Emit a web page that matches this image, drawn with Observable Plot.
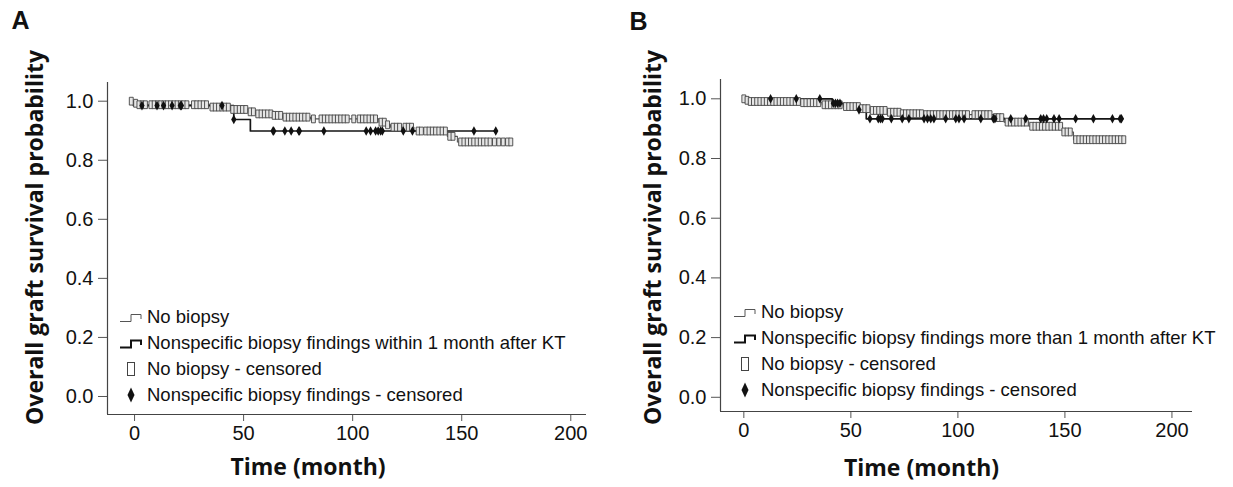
<!DOCTYPE html>
<html><head><meta charset="utf-8">
<script src="https://cdn.jsdelivr.net/npm/d3@7"></script>
<script src="https://cdn.jsdelivr.net/npm/@observablehq/plot@0.6"></script>
<style>
body{margin:0;background:#fff;}
#wrap{position:relative;width:1233px;height:487px;overflow:hidden;font-family:"Liberation Sans",Arial,sans-serif;background:#fff;}
.panel{position:absolute;top:0;}
.legend{position:absolute;font-size:18.5px;color:#111;font-family:"Liberation Sans",Arial,sans-serif;}
.legend .row{display:flex;align-items:center;height:26px;white-space:nowrap;}
.legend svg{flex:none;margin-right:2px;}
</style>
</head><body><div id="wrap"></div><script>
// ---------- data ----------
const xTicks = [0, 50, 100, 150, 200];
const yTicks = [0.0, 0.2, 0.4, 0.6, 0.8, 1.0];
const yLabel = "Overall graft survival probability";
const xLabel = "Time (month)";
const panelLetters = ["A", "B"];

// Panel A
const aNoBiopsyTime = [-1, 0, 1, 34.8, 43.9, 52.3, 55.4, 63.1, 67.7, 80.7, 112, 115.1, 117.4, 128.1, 143.4, 148, 172.5];
const aNoBiopsySurv = [1.0, 0.993, 0.988, 0.98, 0.972, 0.964, 0.957, 0.952, 0.946, 0.94, 0.929, 0.92, 0.912, 0.899, 0.881, 0.862, 0.862];
const aNonspecTime = [-1, -0.5, 45.5, 53.1, 165.7];
const aNonspecSurv = [1.0, 0.985, 0.938, 0.899, 0.899];
const aNoBiopsyCensored = [-1.5, 0.5, 2, 3.5, 5, 7.5, 9, 10.5, 12, 13.5, 15, 16.5, 18, 19.5, 21, 22.5, 24, 27, 28.5, 30, 31.5, 33,
  35.5, 37, 38.5, 40, 41.5, 43, 45, 46.5, 48, 49.5, 51, 53, 54.5, 56.5, 58, 59.5, 61, 62.5, 64, 65.5, 67,
  69, 70.5, 72, 73.5, 75, 76.5, 78, 79.5, 82, 85.5, 87, 88.5, 90, 91.5, 93, 94.5, 96, 97.5, 100.5, 103, 104.5, 106, 107.5, 109, 110.5,
  113, 114.5, 116, 118.5, 120, 121.5, 124, 125.5, 127, 130, 131.5, 133.5, 135, 136.5, 138, 139.5, 141, 142.5, 144.5, 146,
  149.5, 151, 152.5, 154, 155.5, 157, 158.5, 160, 161.5, 163, 165, 167, 169, 171, 172.5];
const aNonspecCensored = [3.4, 10.3, 13.3, 17.2, 21.0, 21.5, 40.1, 45.5, 63.5, 63.8, 68.9, 71.8, 75.3, 75.6, 86.8, 106.2, 108.2, 110.5, 111.7, 112.8, 113.6, 123.2, 127.4, 155.6, 165.6];
const aLegend = ["No biopsy", "Nonspecific biopsy findings within 1 month after KT", "No biopsy - censored", "Nonspecific biopsy findings - censored"];

// Panel B
const bNoBiopsyTime = [0, 1, 3, 26.5, 36.6, 46.8, 54.2, 59.2, 67, 73.3, 84.2, 116.9, 121.6, 133.2, 148.8, 154, 178];
const bNoBiopsySurv = [1.0, 0.995, 0.991, 0.987, 0.98, 0.974, 0.967, 0.961, 0.955, 0.95, 0.947, 0.937, 0.922, 0.908, 0.889, 0.863, 0.863];
const bNonspecTime = [0, 41.3, 47, 52, 57.2, 177];
const bNonspecSurv = [1.0, 0.985, 0.975, 0.963, 0.933, 0.933];
const bNoBiopsyCensored = [0, 1.5, 3, 4.5, 6, 7.5, 9, 10.5, 12, 13.5, 15, 16.5, 18, 19.5, 21, 22.5, 24, 25.5,
  27.5, 29, 30.5, 32, 33.5, 35, 37.5, 39, 40.5, 42, 43.5, 45, 47.5, 49, 50.5, 52, 53.5, 55, 56.5, 58,
  60, 61.5, 63, 64.5, 66, 68, 69.5, 71, 72.5, 74, 75.5, 77, 78.5, 80, 81.5, 83,
  85, 86.5, 88, 89.5, 91, 92.5, 94, 95.5, 97, 98.5, 100, 101.5, 103, 104.5, 107.5, 109, 110.5, 112, 113.5, 115,
  117.5, 119, 120.5, 123, 124.5, 126, 127.5, 129, 130.5, 132, 134.5, 136, 137.5, 139, 140.5, 142, 143.5, 145, 146.5, 148,
  149.5, 151, 152.5, 155, 156.5, 158, 159.5, 161, 162.5, 164, 165.5, 167, 168.5, 170, 171.5, 173, 174.5, 176, 177.5];
const bNonspecCensored = [12.5, 24.5, 35.5, 41.8, 42.8, 43.8, 44.9, 53.8, 58.9, 62.8, 63.8, 64.7, 68.9, 74, 77.1, 84.2, 85.8, 87.3, 88.8,
  94.3, 99, 100.5, 102.9, 110.7, 116.6, 117.3, 124.7, 131.7, 138.7, 140, 141.5, 144.9, 147.3, 155, 163.3, 172.2, 175.8, 176.4];
const bLegend = ["No biopsy", "Nonspecific biopsy findings more than 1 month after KT", "No biopsy - censored", "Nonspecific biopsy findings - censored"];

// ---------- helpers ----------
function stepAt(times, surv, t) {
  let v = surv[0];
  for (let i = 0; i < times.length; i++) if (t >= times[i]) v = surv[i];
  return v;
}
const curve = (times, surv) => times.map((t, i) => ({t, s: surv[i]}));
const marks = (cens, times, surv) => cens.map(t => ({t, s: stepAt(times, surv, t)}));

const rectSym = {draw(ctx, size) { const r = Math.sqrt(size / Math.PI); const w = r * 0.5, h = r;
  ctx.moveTo(-w, -h); ctx.lineTo(w, -h); ctx.lineTo(w, h); ctx.lineTo(-w, h); ctx.closePath(); }};
const diamondSym = {draw(ctx, size) { const r = Math.sqrt(size / Math.PI); const w = r * 0.55, h = r;
  ctx.moveTo(0, -h); ctx.lineTo(w, 0); ctx.lineTo(0, h); ctx.lineTo(-w, 0); ctx.closePath(); }};

function panel(cfg) {
  const xd = cfg.xDomain, yd = cfg.yDomain;
  return Plot.plot({
    width: cfg.width, height: 487,
    marginLeft: cfg.ml, marginRight: cfg.mr, marginTop: cfg.mt, marginBottom: cfg.mb,
    x: {domain: xd}, y: {domain: yd},
    style: {fontFamily: "Liberation Sans, Arial, sans-serif", fontSize: "20px", color: "#111", background: "white", overflow: "visible"},
    marks: [
      Plot.axisX({ticks: xTicks, tickSize: 7, tickPadding: 4, label: null, fontSize: 20, stroke: "#555"}),
      Plot.axisY({ticks: yTicks, tickSize: 9, tickPadding: 5, tickFormat: d3.format(".1f"), label: null, fontSize: 20, stroke: "#555"}),
      Plot.ruleX([xd[0]], {y1: yd[0], y2: yd[1], stroke: "#444", strokeWidth: 1.2}),
      Plot.ruleY([yd[0]], {x1: xd[0], x2: xd[1], stroke: "#444", strokeWidth: 1.2}),
      Plot.line(curve(cfg.nbT, cfg.nbS), {x: "t", y: "s", curve: "step-after", stroke: "#555", strokeWidth: 1.1}),
      Plot.line(curve(cfg.nsT, cfg.nsS), {x: "t", y: "s", curve: "step-after", stroke: "#151515", strokeWidth: 1.7}),
      Plot.dot(marks(cfg.nbC, cfg.nbT, cfg.nbS), {x: "t", y: "s", symbol: rectSym, r: 3.9, fill: "#e6e6e6", stroke: "#444", strokeWidth: 0.9}),
      Plot.dot(marks(cfg.nsC, cfg.nsT, cfg.nsS), {x: "t", y: "s", symbol: diamondSym, r: 4.8, fill: "#111", stroke: "none"}),
      Plot.text([yLabel], {text: d => d, frameAnchor: "left", textAnchor: "middle", lineAnchor: "middle", rotate: -90, dx: cfg.ylDx, dy: cfg.ylDy, fontSize: 23, fontWeight: "bold", fontFamily: "Open Sans, sans-serif", fill: "#111"}),
      Plot.text([xLabel], {text: d => d, frameAnchor: "bottom", textAnchor: "middle", lineAnchor: "middle", dx: cfg.xlDx, dy: cfg.xlDy, fontSize: 23, fontWeight: "bold", fontFamily: "Open Sans, sans-serif", fill: "#111"}),
      Plot.text([cfg.letter], {text: d => d, frameAnchor: "top-left", textAnchor: "middle", lineAnchor: "middle", dx: cfg.lDx, dy: cfg.lDy, fontSize: 25, fontWeight: "bold", fontFamily: "Liberation Sans, Arial, sans-serif", fill: "#111"})
    ]
  });
}

function legendSym(kind) {
  if (kind === 0) return `<svg width="26" height="20"><path d="M1,14.5 H12 V7.5 H22 V12" fill="none" stroke="#555" stroke-width="1"/></svg>`;
  if (kind === 1) return `<svg width="26" height="20"><path d="M1,14.5 H12 V7.5 H22 V12" fill="none" stroke="#111" stroke-width="2"/></svg>`;
  if (kind === 2) return `<svg width="26" height="20"><rect x="8.5" y="3.5" width="7" height="13" fill="#fff" stroke="#444" stroke-width="1"/></svg>`;
  return `<svg width="26" height="20"><polygon points="12,2.5 15.5,10 12,17.5 8.5,10" fill="#111"/></svg>`;
}
function legend(items, left, top) {
  const div = document.createElement("div");
  div.className = "legend";
  div.style.left = left + "px"; div.style.top = top + "px";
  div.innerHTML = items.map((s, i) => `<div class="row">${legendSym(i)}<span>${s}</span></div>`).join("");
  return div;
}

const wrap = document.getElementById("wrap");
const A = panel({width: 616, ml: 107, mr: 30, mt: 82, mb: 73, xDomain: [-12.4, 207.2], yDomain: [-0.061, 1.0633],
  nbT: aNoBiopsyTime, nbS: aNoBiopsySurv, nsT: aNonspecTime, nsS: aNonspecSurv, nbC: aNoBiopsyCensored, nsC: aNonspecCensored,
  ylDx: -72, ylDy: -11, xlDx: -39, xlDy: 53, letter: panelLetters[0], lDx: -87, lDy: -62});
A.classList.add("panel"); A.style.left = "0px";
wrap.appendChild(A);
const B = panel({width: 617, ml: 104, mr: 41, mt: 79, mb: 76, xDomain: [-10.9, 209.6], yDomain: [-0.0476, 1.0647],
  nbT: bNoBiopsyTime, nbS: bNoBiopsySurv, nsT: bNonspecTime, nsS: bNonspecSurv, nbC: bNoBiopsyCensored, nsC: bNonspecCensored,
  ylDx: -67, ylDy: -8, xlDx: -35, xlDy: 57, letter: panelLetters[1], lDx: -82, lDy: -58});
B.classList.add("panel"); B.style.left = "616px";
wrap.appendChild(B);
wrap.appendChild(legend(aLegend, 119, 304));
wrap.appendChild(legend(bLegend, 733, 299));
</script></body></html>
